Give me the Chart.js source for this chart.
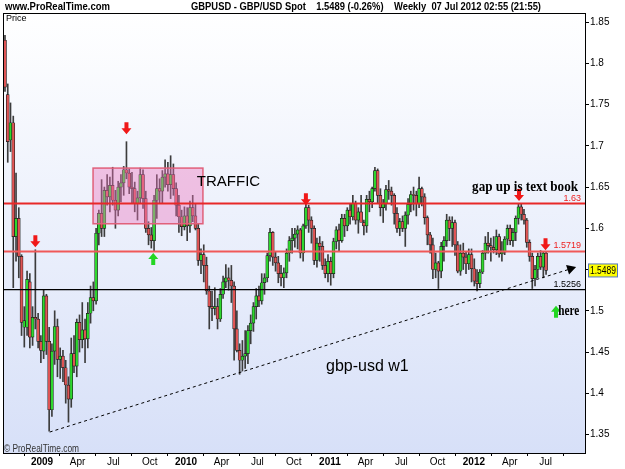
<!DOCTYPE html>
<html>
<head>
<meta charset="utf-8">
<title>GBPUSD weekly</title>
<script src="https://cdn.jsdelivr.net/npm/chart.js@4.4.0/dist/chart.umd.min.js"></script>
<style>
  html, body { margin: 0; padding: 0; background: #fff; }
  #wrap { width: 625px; height: 469px; }
</style>
</head>
<body>
<div id="wrap"><canvas id="priceChart" width="625" height="469"></canvas></div>
<script>
// Weekly GBP/USD candles, first week starts Mon 29 Sep 2008
const firstWeek = '2008-09-29';

const opens = [
  // 0..13 (2008)
  1.828, 1.762, 1.707, 1.728, 1.590, 1.612, 1.566, 1.480, 1.480, 1.535, 1.468, 1.492, 1.490, 1.463,
  // 14..65 (2009)
  1.451, 1.518, 1.463, 1.380, 1.451, 1.481, 1.441, 1.445, 1.431, 1.410,
  1.393, 1.448, 1.433, 1.486, 1.465, 1.477, 1.466, 1.497, 1.516, 1.512,
  1.594, 1.618, 1.600, 1.646, 1.638, 1.652, 1.634, 1.622, 1.650, 1.655,
  1.671, 1.667, 1.650, 1.648, 1.630, 1.637, 1.665, 1.636, 1.600, 1.592,
  1.585, 1.634, 1.648, 1.645, 1.662, 1.666, 1.653, 1.665, 1.648, 1.628,
  1.614, 1.602,
  // 66..117 (2010)
  1.615, 1.603, 1.625, 1.615, 1.600, 1.561, 1.568, 1.555, 1.524, 1.505,
  1.503, 1.505, 1.490, 1.520, 1.535, 1.540, 1.537, 1.530, 1.478, 1.452,
  1.440, 1.445, 1.448, 1.476, 1.485, 1.505, 1.518, 1.512, 1.534, 1.540,
  1.567, 1.595, 1.565, 1.558, 1.545, 1.540, 1.546, 1.570, 1.585, 1.588,
  1.593, 1.598, 1.570, 1.603, 1.625, 1.610, 1.600, 1.561, 1.582, 1.578,
  1.555, 1.545,
  // 118..169 (2011)
  1.560, 1.545, 1.584, 1.598, 1.585, 1.612, 1.603, 1.622, 1.614, 1.630,
  1.610, 1.620, 1.607, 1.603, 1.635, 1.632, 1.648, 1.670, 1.640, 1.625,
  1.630, 1.647, 1.645, 1.640, 1.618, 1.600, 1.608, 1.600, 1.616, 1.629,
  1.641, 1.640, 1.630, 1.648, 1.638, 1.613, 1.592, 1.580, 1.550, 1.558,
  1.548, 1.578, 1.585, 1.610, 1.600, 1.607, 1.580, 1.548, 1.570, 1.565,
  1.557, 1.568,
  // 170..196 (2012)
  1.551, 1.536, 1.533, 1.547, 1.570, 1.582, 1.579, 1.577, 1.574, 1.590,
  1.569, 1.571, 1.587, 1.600, 1.585, 1.595, 1.612, 1.626, 1.617, 1.610,
  1.583, 1.566, 1.539, 1.550, 1.566, 1.553, 1.570
];

const highs = [
  1.834, 1.775, 1.752, 1.736, 1.667, 1.625, 1.568, 1.505, 1.548, 1.545, 1.505, 1.574, 1.497, 1.470,
  1.526, 1.520, 1.480, 1.460, 1.500, 1.490, 1.455, 1.452, 1.440, 1.420,
  1.467, 1.470, 1.490, 1.495, 1.510, 1.490, 1.510, 1.530, 1.535, 1.600,
  1.622, 1.659, 1.650, 1.665, 1.662, 1.674, 1.646, 1.657, 1.665, 1.675,
  1.705, 1.672, 1.668, 1.656, 1.645, 1.673, 1.671, 1.645, 1.608, 1.601,
  1.640, 1.665, 1.660, 1.670, 1.683, 1.680, 1.688, 1.678, 1.655, 1.640,
  1.622, 1.626,
  1.625, 1.633, 1.640, 1.630, 1.605, 1.575, 1.580, 1.565, 1.530, 1.524,
  1.528, 1.515, 1.527, 1.542, 1.556, 1.552, 1.555, 1.535, 1.500, 1.460,
  1.464, 1.476, 1.482, 1.495, 1.510, 1.527, 1.530, 1.545, 1.545, 1.570,
  1.600, 1.596, 1.572, 1.566, 1.555, 1.552, 1.575, 1.590, 1.600, 1.600,
  1.603, 1.600, 1.605, 1.630, 1.628, 1.614, 1.603, 1.588, 1.590, 1.584,
  1.563, 1.568,
  1.565, 1.588, 1.602, 1.605, 1.617, 1.617, 1.625, 1.630, 1.640, 1.633,
  1.625, 1.640, 1.610, 1.640, 1.645, 1.650, 1.674, 1.672, 1.648, 1.635,
  1.652, 1.658, 1.650, 1.642, 1.625, 1.612, 1.615, 1.620, 1.636, 1.645,
  1.650, 1.645, 1.662, 1.650, 1.642, 1.615, 1.595, 1.588, 1.570, 1.560,
  1.583, 1.590, 1.617, 1.614, 1.614, 1.610, 1.584, 1.580, 1.582, 1.572,
  1.575, 1.575,
  1.563, 1.550, 1.550, 1.573, 1.590, 1.595, 1.588, 1.590, 1.598, 1.593,
  1.584, 1.590, 1.604, 1.604, 1.600, 1.615, 1.630, 1.630, 1.623, 1.612,
  1.586, 1.570, 1.555, 1.570, 1.573, 1.572, 1.572
];

const lows = [
  1.766, 1.680, 1.693, 1.528, 1.560, 1.540, 1.470, 1.456, 1.470, 1.455, 1.458, 1.478, 1.455, 1.437,
  1.442, 1.447, 1.354, 1.372, 1.435, 1.420, 1.418, 1.414, 1.388, 1.365,
  1.383, 1.425, 1.420, 1.450, 1.455, 1.437, 1.455, 1.485, 1.500, 1.508,
  1.580, 1.590, 1.590, 1.628, 1.620, 1.628, 1.600, 1.615, 1.632, 1.640,
  1.660, 1.642, 1.630, 1.620, 1.610, 1.630, 1.624, 1.595, 1.580, 1.576,
  1.572, 1.612, 1.630, 1.630, 1.650, 1.645, 1.636, 1.640, 1.615, 1.595,
  1.591, 1.598,
  1.585, 1.595, 1.608, 1.598, 1.555, 1.545, 1.535, 1.520, 1.478, 1.488,
  1.495, 1.478, 1.487, 1.515, 1.528, 1.525, 1.510, 1.440, 1.450, 1.423,
  1.427, 1.430, 1.436, 1.460, 1.475, 1.490, 1.505, 1.508, 1.520, 1.535,
  1.560, 1.555, 1.548, 1.534, 1.530, 1.528, 1.540, 1.560, 1.570, 1.577,
  1.575, 1.564, 1.560, 1.600, 1.595, 1.582, 1.556, 1.553, 1.560, 1.550,
  1.540, 1.535,
  1.531, 1.540, 1.575, 1.572, 1.583, 1.590, 1.597, 1.605, 1.610, 1.605,
  1.594, 1.610, 1.592, 1.595, 1.620, 1.625, 1.645, 1.630, 1.615, 1.607,
  1.622, 1.635, 1.628, 1.605, 1.595, 1.591, 1.596, 1.578, 1.605, 1.620,
  1.622, 1.615, 1.625, 1.627, 1.605, 1.580, 1.570, 1.539, 1.540, 1.527,
  1.540, 1.560, 1.578, 1.585, 1.578, 1.567, 1.546, 1.543, 1.550, 1.545,
  1.550, 1.535,
  1.530, 1.524, 1.528, 1.545, 1.562, 1.570, 1.560, 1.570, 1.568, 1.565,
  1.560, 1.568, 1.580, 1.580, 1.578, 1.585, 1.605, 1.610, 1.605, 1.577,
  1.560, 1.527, 1.530, 1.540, 1.550, 1.540, 1.544
];

const closes = [
  1.771, 1.705, 1.728, 1.590, 1.612, 1.566, 1.486, 1.488, 1.538, 1.468, 1.492, 1.490, 1.463, 1.452,
  1.518, 1.463, 1.380, 1.451, 1.481, 1.441, 1.445, 1.431, 1.410, 1.393,
  1.448, 1.433, 1.486, 1.465, 1.477, 1.466, 1.497, 1.516, 1.512, 1.594,
  1.618, 1.600, 1.646, 1.638, 1.652, 1.634, 1.622, 1.650, 1.655, 1.671,
  1.667, 1.650, 1.648, 1.630, 1.637, 1.665, 1.636, 1.600, 1.592, 1.585,
  1.634, 1.648, 1.645, 1.662, 1.666, 1.653, 1.665, 1.648, 1.628, 1.614,
  1.602, 1.615,
  1.603, 1.625, 1.615, 1.600, 1.561, 1.568, 1.555, 1.524, 1.505, 1.503,
  1.505, 1.490, 1.520, 1.535, 1.540, 1.537, 1.530, 1.478, 1.452, 1.440,
  1.445, 1.448, 1.476, 1.485, 1.505, 1.518, 1.512, 1.534, 1.540, 1.567,
  1.595, 1.565, 1.558, 1.545, 1.540, 1.546, 1.570, 1.585, 1.588, 1.593,
  1.598, 1.570, 1.603, 1.625, 1.610, 1.600, 1.561, 1.582, 1.578, 1.555,
  1.545, 1.560,
  1.545, 1.584, 1.598, 1.585, 1.612, 1.603, 1.622, 1.614, 1.630, 1.610,
  1.620, 1.607, 1.603, 1.635, 1.632, 1.648, 1.670, 1.640, 1.625, 1.630,
  1.647, 1.645, 1.640, 1.618, 1.600, 1.608, 1.600, 1.616, 1.629, 1.641,
  1.640, 1.630, 1.648, 1.638, 1.613, 1.592, 1.580, 1.550, 1.558, 1.548,
  1.578, 1.585, 1.610, 1.600, 1.607, 1.580, 1.548, 1.570, 1.565, 1.557,
  1.568, 1.551,
  1.536, 1.533, 1.547, 1.570, 1.582, 1.579, 1.577, 1.574, 1.590, 1.569,
  1.571, 1.587, 1.600, 1.585, 1.595, 1.612, 1.626, 1.617, 1.610, 1.583,
  1.566, 1.539, 1.550, 1.566, 1.553, 1.570, 1.549
];

// axis labels
const xTickDates = ['2009-01-01', '2009-04-01', '2009-07-01', '2009-10-01',
  '2010-01-01', '2010-04-01', '2010-07-01', '2010-10-01',
  '2011-01-01', '2011-04-01', '2011-07-01', '2011-10-01',
  '2012-01-01', '2012-04-01', '2012-07-01'];
const xTickLabels = ['2009', 'Apr', 'Jul', 'Oct', '2010', 'Apr', 'Jul', 'Oct',
  '2011', 'Apr', 'Jul', 'Oct', '2012', 'Apr', 'Jul'];
const yTicks = [1.35, 1.4, 1.45, 1.5, 1.55, 1.6, 1.65, 1.7, 1.75, 1.8, 1.85];

// drawn levels and notes (x in weeks from firstWeek, y in price)
const levelValues = [1.63, 1.5719, 1.5256];
const levelLabels = ['1.63', '1.5719', '1.5256'];
const lastPrice = 1.5489;
const trafficBox = { x0: 31.9, x1: 71.7, y0: 1.6055, y1: 1.673 };
const trendStart = { x: 16.2, y: 1.353 };
const trendEnd = { x: 205.5, y: 1.5515 };
const downArrows = [[11, 1.577], [44, 1.714], [109, 1.628], [186.2, 1.633], [195.8, 1.5735]];
const upArrows = [[53.7, 1.570], [199.6, 1.506]];

const WEEK_MS = 7 * 24 * 3600 * 1000;
const xTickPos = xTickDates.map(d => (Date.parse(d) - Date.parse(firstWeek)) / WEEK_MS);

const SANS = '"Liberation Sans", Arial, sans-serif';
const SERIF = '"Liberation Serif", "Times New Roman", serif';

const bodies = closes.map((c, i) => ({ x: i, y: [opens[i], c] }));
const wicks = closes.map((c, i) => ({ x: i, y: [lows[i], highs[i]] }));
const bodyColors = closes.map((c, i) => c >= opens[i] ? '#2ed82e' : '#e05555');

function drawArrow(ctx, x, tip, up, color) {
    const dir = up ? 1 : -1;
    ctx.save();
    ctx.fillStyle = color;
    ctx.beginPath();
    ctx.moveTo(x, tip);
    ctx.lineTo(x - 5, tip + dir * 6);
    ctx.lineTo(x - 2, tip + dir * 6);
    ctx.lineTo(x - 2, tip + dir * 12);
    ctx.lineTo(x + 2, tip + dir * 12);
    ctx.lineTo(x + 2, tip + dir * 6);
    ctx.lineTo(x + 5, tip + dir * 6);
    ctx.closePath();
    ctx.fill();
    ctx.restore();
}

const chartDecor = {
    id: 'chartDecor',
    beforeDraw(chart) {
        const ctx = chart.ctx;
        const a = chart.chartArea;
        ctx.save();
        ctx.fillStyle = '#ffffff';
        ctx.fillRect(0, 0, chart.width, chart.height);
        const g = ctx.createLinearGradient(0, a.top, 0, a.bottom);
        g.addColorStop(0, '#ffffff');
        g.addColorStop(1, '#d7e0f8');
        ctx.fillStyle = g;
        ctx.fillRect(a.left, a.top, a.right - a.left, a.bottom - a.top);
        ctx.restore();
    },
    afterDatasetsDraw(chart) {
        const ctx = chart.ctx;
        const a = chart.chartArea;
        const xs = chart.scales.x, ys = chart.scales.y;
        const px = v => xs.getPixelForValue(v);
        const py = v => ys.getPixelForValue(v);

        ctx.save();
        ctx.beginPath();
        ctx.rect(a.left, a.top, a.right - a.left, a.bottom - a.top);
        ctx.clip();

        // traffic box
        const bx0 = px(trafficBox.x0), bx1 = px(trafficBox.x1);
        const by0 = py(trafficBox.y1), by1 = py(trafficBox.y0);
        ctx.fillStyle = 'rgba(236,120,190,0.42)';
        ctx.fillRect(bx0, by0, bx1 - bx0, by1 - by0);
        ctx.strokeStyle = '#e0607a';
        ctx.lineWidth = 1.5;
        ctx.strokeRect(bx0, by0, bx1 - bx0, by1 - by0);

        // horizontal levels
        const levelStyles = [
            { color: '#e82828', width: 2 },
            { color: '#f05858', width: 2 },
            { color: '#000000', width: 1.2 }
        ];
        levelValues.forEach((v, k) => {
            const y = py(v);
            ctx.strokeStyle = levelStyles[k].color;
            ctx.lineWidth = levelStyles[k].width;
            ctx.beginPath();
            ctx.moveTo(a.left, y);
            ctx.lineTo(a.right, y);
            ctx.stroke();
            ctx.fillStyle = k === 2 ? '#000' : '#ee2020';
            ctx.font = '9px ' + SANS;
            ctx.textAlign = 'right';
            ctx.textBaseline = 'bottom';
            ctx.fillText(levelLabels[k], a.right - 4, y - 1);
        });

        // dashed trend line
        const tx0 = px(trendStart.x), ty0 = py(trendStart.y);
        const tx1 = px(trendEnd.x), ty1 = py(trendEnd.y);
        ctx.strokeStyle = '#000';
        ctx.lineWidth = 1;
        ctx.setLineDash([3, 3]);
        ctx.beginPath();
        ctx.moveTo(tx0, ty0);
        ctx.lineTo(tx1, ty1);
        ctx.stroke();
        ctx.setLineDash([]);
        const ang = Math.atan2(ty1 - ty0, tx1 - tx0);
        ctx.fillStyle = '#000';
        ctx.beginPath();
        ctx.moveTo(tx1 + 4 * Math.cos(ang), ty1 + 4 * Math.sin(ang));
        ctx.lineTo(tx1 - 5 * Math.cos(ang) - 5 * Math.sin(ang), ty1 - 5 * Math.sin(ang) + 5 * Math.cos(ang));
        ctx.lineTo(tx1 - 5 * Math.cos(ang) + 5 * Math.sin(ang), ty1 - 5 * Math.sin(ang) - 5 * Math.cos(ang));
        ctx.closePath();
        ctx.fill();

        // arrows
        downArrows.forEach(p => drawArrow(ctx, px(p[0]), py(p[1]), false, '#f01818'));
        upArrows.forEach(p => drawArrow(ctx, px(p[0]), py(p[1]), true, '#22d622'));

        // notes
        ctx.fillStyle = '#000';
        ctx.textAlign = 'left';
        ctx.textBaseline = 'middle';
        ctx.font = '15px ' + SANS;
        ctx.fillText('TRAFFIC', px(69.5), py(1.6561));
        ctx.font = '16px ' + SANS;
        ctx.fillText('gbp-usd w1', px(116.3), py(1.432));
        ctx.font = 'bold 15px ' + SERIF;
        ctx.fillText('gap up is text book', px(169.2), py(1.6505), 106);
        ctx.font = 'bold 14px ' + SERIF;
        ctx.fillText('here', px(200.4), py(1.4998), 21);

        ctx.restore();
    },
    afterDraw(chart) {
        const ctx = chart.ctx;
        const a = chart.chartArea;
        const ys = chart.scales.y;
        ctx.save();
        // frame
        ctx.strokeStyle = '#000';
        ctx.lineWidth = 1;
        ctx.strokeRect(Math.round(a.left) + 0.5, Math.round(a.top) + 0.5,
            Math.round(a.right - a.left), Math.round(a.bottom - a.top));

        ctx.fillStyle = '#000';
        ctx.textBaseline = 'middle';
        ctx.textAlign = 'left';
        ctx.font = 'bold 10px ' + SANS;
        ctx.fillText('www.ProRealTime.com', 5, 7, 105);
        ctx.fillText('GBPUSD - GBP/USD Spot    1.5489 (-0.26%)    Weekly  07 Jul 2012 02:55 (21:55)', 191, 7, 350);
        ctx.font = '9px ' + SANS;
        ctx.fillText('Price', a.left + 3, a.top + 6);
        ctx.fillStyle = '#333';
        ctx.font = '10px ' + SANS;
        ctx.fillText('\u00a9 ProRealTime.com', a.left + 1, a.bottom - 4, 75);

        // last price tag
        const y = ys.getPixelForValue(lastPrice);
        ctx.fillStyle = '#ffff00';
        ctx.fillRect(a.right + 3.5, y - 6.5, 29, 13);
        ctx.strokeStyle = '#5878c0';
        ctx.strokeRect(a.right + 3.5, y - 6.5, 29, 13);
        ctx.fillStyle = '#000';
        ctx.font = '10px ' + SANS;
        ctx.fillText(lastPrice.toFixed(4), a.right + 5, y + 0.5, 26);
        ctx.restore();
    }
};

const ctx = document.getElementById('priceChart').getContext('2d');
const priceChart = new Chart(ctx, {
    type: 'bar',
    data: {
        datasets: [{
            label: 'body',
            data: bodies,
            backgroundColor: bodyColors,
            borderColor: '#1c1c1c',
            borderWidth: 0.7,
            borderSkipped: false,
            barThickness: 3,
            grouped: false,
            order: 1
        }, {
            label: 'wick',
            data: wicks,
            backgroundColor: '#3c3c3c',
            barThickness: 1,
            grouped: false,
            order: 2
        }]
    },
    options: {
        responsive: false,
        animation: false,
        layout: { padding: { top: 13, left: 3, right: 0, bottom: 0 } },
        plugins: {
            legend: { display: false },
            tooltip: { enabled: false }
        },
        scales: {
            x: {
                type: 'linear',
                min: -0.72,
                max: 210.1,
                offset: false,
                afterBuildTicks: s => { s.ticks = xTickPos.map(v => ({ value: v })); },
                afterFit: s => { s.height = 16; },
                grid: { drawOnChartArea: false, drawTicks: true, tickLength: 3, color: '#000' },
                border: { display: true, color: '#000' },
                ticks: {
                    autoSkip: false,
                    maxRotation: 0,
                    padding: 0,
                    color: '#000',
                    font: c => ({ family: SANS, size: 10, weight: /^\d{4}$/.test(xTickLabels[c.index]) ? 'bold' : 'normal' }),
                    callback: (v, i) => xTickLabels[i]
                }
            },
            y: {
                position: 'right',
                min: 1.3276,
                max: 1.861,
                afterBuildTicks: s => { s.ticks = yTicks.map(v => ({ value: v })); },
                afterFit: s => { s.width = 40; },
                grid: { drawOnChartArea: false, drawTicks: true, tickLength: 4, color: '#000' },
                border: { display: true, color: '#000' },
                ticks: {
                    padding: 1,
                    color: '#000',
                    font: { family: SANS, size: 10 },
                    callback: v => String(Number(v.toFixed(2)))
                }
            }
        }
    },
    plugins: [chartDecor]
});
</script>
</body>
</html>
